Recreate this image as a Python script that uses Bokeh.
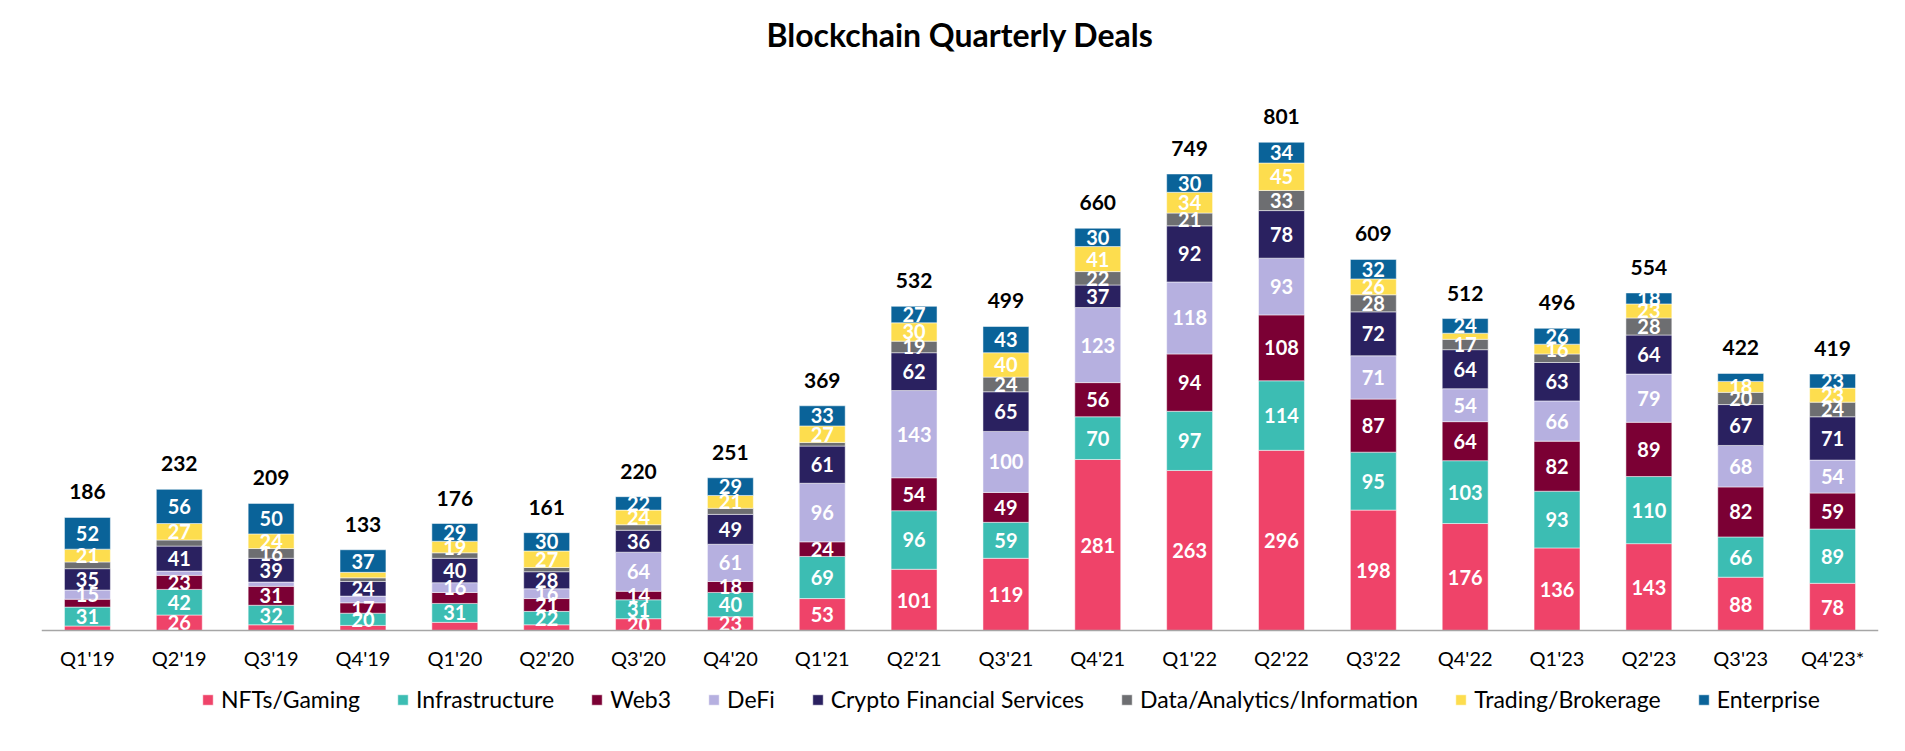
from bokeh.plotting import figure
from bokeh.models import (ColumnDataSource, FactorRange, Legend, LegendItem, Title)
from bokeh.core.properties import value
from bokeh.embed import file_html
from bokeh.resources import INLINE

quarters = ["Q1'19", "Q2'19", "Q3'19", "Q4'19", "Q1'20", "Q2'20", "Q3'20", "Q4'20",
            "Q1'21", "Q2'21", "Q3'21", "Q4'21", "Q1'22", "Q2'22", "Q3'22", "Q4'22",
            "Q1'23", "Q2'23", "Q3'23", "Q4'23*"]

series = ["NFTs/Gaming", "Infrastructure", "Web3", "DeFi", "Crypto Financial Services",
          "Data/Analytics/Information", "Trading/Brokerage", "Enterprise"]

nfts_gaming = [8, 26, 10, 9, 14, 10, 20, 23, 53, 101, 119, 281, 263, 296, 198, 176, 136, 143, 88, 78]
infrastructure = [31, 42, 32, 20, 31, 22, 31, 40, 69, 96, 59, 70, 97, 114, 95, 103, 93, 110, 66, 89]
web3 = [13, 23, 31, 17, 18, 21, 14, 18, 24, 54, 49, 56, 94, 108, 87, 64, 82, 89, 82, 59]
defi = [15, 7, 7, 11, 16, 16, 64, 61, 96, 143, 100, 123, 118, 93, 71, 54, 66, 79, 68, 54]
crypto_fin = [35, 41, 39, 24, 40, 28, 36, 49, 61, 62, 65, 37, 92, 78, 72, 64, 63, 64, 67, 71]
data_analytics = [11, 10, 16, 6, 9, 7, 9, 10, 6, 19, 24, 22, 21, 33, 28, 17, 14, 28, 20, 24]
trading = [21, 27, 24, 9, 19, 27, 24, 21, 27, 30, 40, 41, 34, 45, 26, 10, 16, 23, 18, 23]
enterprise = [52, 56, 50, 37, 29, 30, 22, 29, 33, 27, 43, 30, 30, 34, 32, 24, 26, 18, 13, 23]

totals = [186, 232, 209, 133, 176, 161, 220, 251, 369, 532, 499, 660, 749, 801, 609, 512,
          496, 554, 422, 419]

# quarter indexes whose segment carries no value label
unlabeled = {
    "NFTs/Gaming": [0, 2, 3, 4, 5],
    "Infrastructure": [],
    "Web3": [0, 4],
    "DeFi": [1, 2, 3],
    "Crypto Financial Services": [],
    "Data/Analytics/Information": [0, 1, 3, 4, 5, 6, 7, 8, 16],
    "Trading/Brokerage": [3, 15],
    "Enterprise": [18],
}

colors = ["#EF4369", "#3CBDB3", "#7B0034", "#B6B0E0", "#2A2160", "#6D6E71", "#FDDD4E", "#0A6399"]
values_list = [nfts_gaming, infrastructure, web3, defi, crypto_fin, data_analytics, trading, enterprise]

FONT = "Lato"

data = {"q": quarters}
for name, vals in zip(series, values_list):
    data[name] = vals
source = ColumnDataSource(data)

p = figure(x_range=FactorRange(*quarters, range_padding=0), y_range=(-171.5, 925.2),
           width=1889, height=735, output_backend="svg", toolbar_location=None,
           min_border_left=41, min_border_right=11, min_border_top=57, min_border_bottom=0)

renderers = p.vbar_stack(series, x="q", width=0.5, color=colors, source=source,
                         line_color="white", line_width=0.5)

# segment labels
lx, ly, lt = [], [], []
cum = [0] * len(quarters)
for name, vals in zip(series, values_list):
    for i, v in enumerate(vals):
        if i not in unlabeled[name]:
            lx.append(quarters[i])
            ly.append(cum[i] + v / 2)
            lt.append(str(v))
        cum[i] += v
p.text(x=lx, y=ly, text=lt, text_align="center", text_baseline="middle",
       text_color="white", text_font=value(FONT), text_font_style="bold",
       text_font_size="20px")

# totals on top
p.text(x=quarters, y=cum, text=[str(t) for t in totals], text_align="center",
       text_baseline="bottom", y_offset=-18, text_color="black", text_font=value(FONT),
       text_font_style="bold", text_font_size="21px")

title = Title(text="Blockchain Quarterly Deals", align="center", text_font=FONT,
              text_font_size="32px", text_font_style="bold", text_color="black",
              standoff=25)
p.add_layout(title, "above")

p.yaxis.visible = False
p.xgrid.grid_line_color = None
p.ygrid.grid_line_color = None
p.outline_line_color = None
p.xaxis.fixed_location = 0
p.xaxis.axis_line_color = "#A6A6A6"
p.xaxis.axis_line_width = 1.5
p.xaxis.major_tick_line_color = None
p.xaxis.minor_tick_line_color = None
p.xaxis.major_label_text_font = FONT
p.xaxis.major_label_text_font_size = "20px"
p.xaxis.major_label_text_color = "black"
p.xaxis.major_label_standoff = 9

items = [LegendItem(label=name, renderers=[r]) for name, r in zip(series, renderers)]
legend = Legend(items=items, orientation="horizontal", location=(160, 22),
                label_text_font=FONT, label_text_font_size="23px", label_text_color="black",
                glyph_width=13, glyph_height=13, label_standoff=7, spacing=36,
                border_line_color=None, background_fill_alpha=0, padding=4, margin=0)
p.add_layout(legend, "center")

open("out.html", "w").write(file_html(p, INLINE))
